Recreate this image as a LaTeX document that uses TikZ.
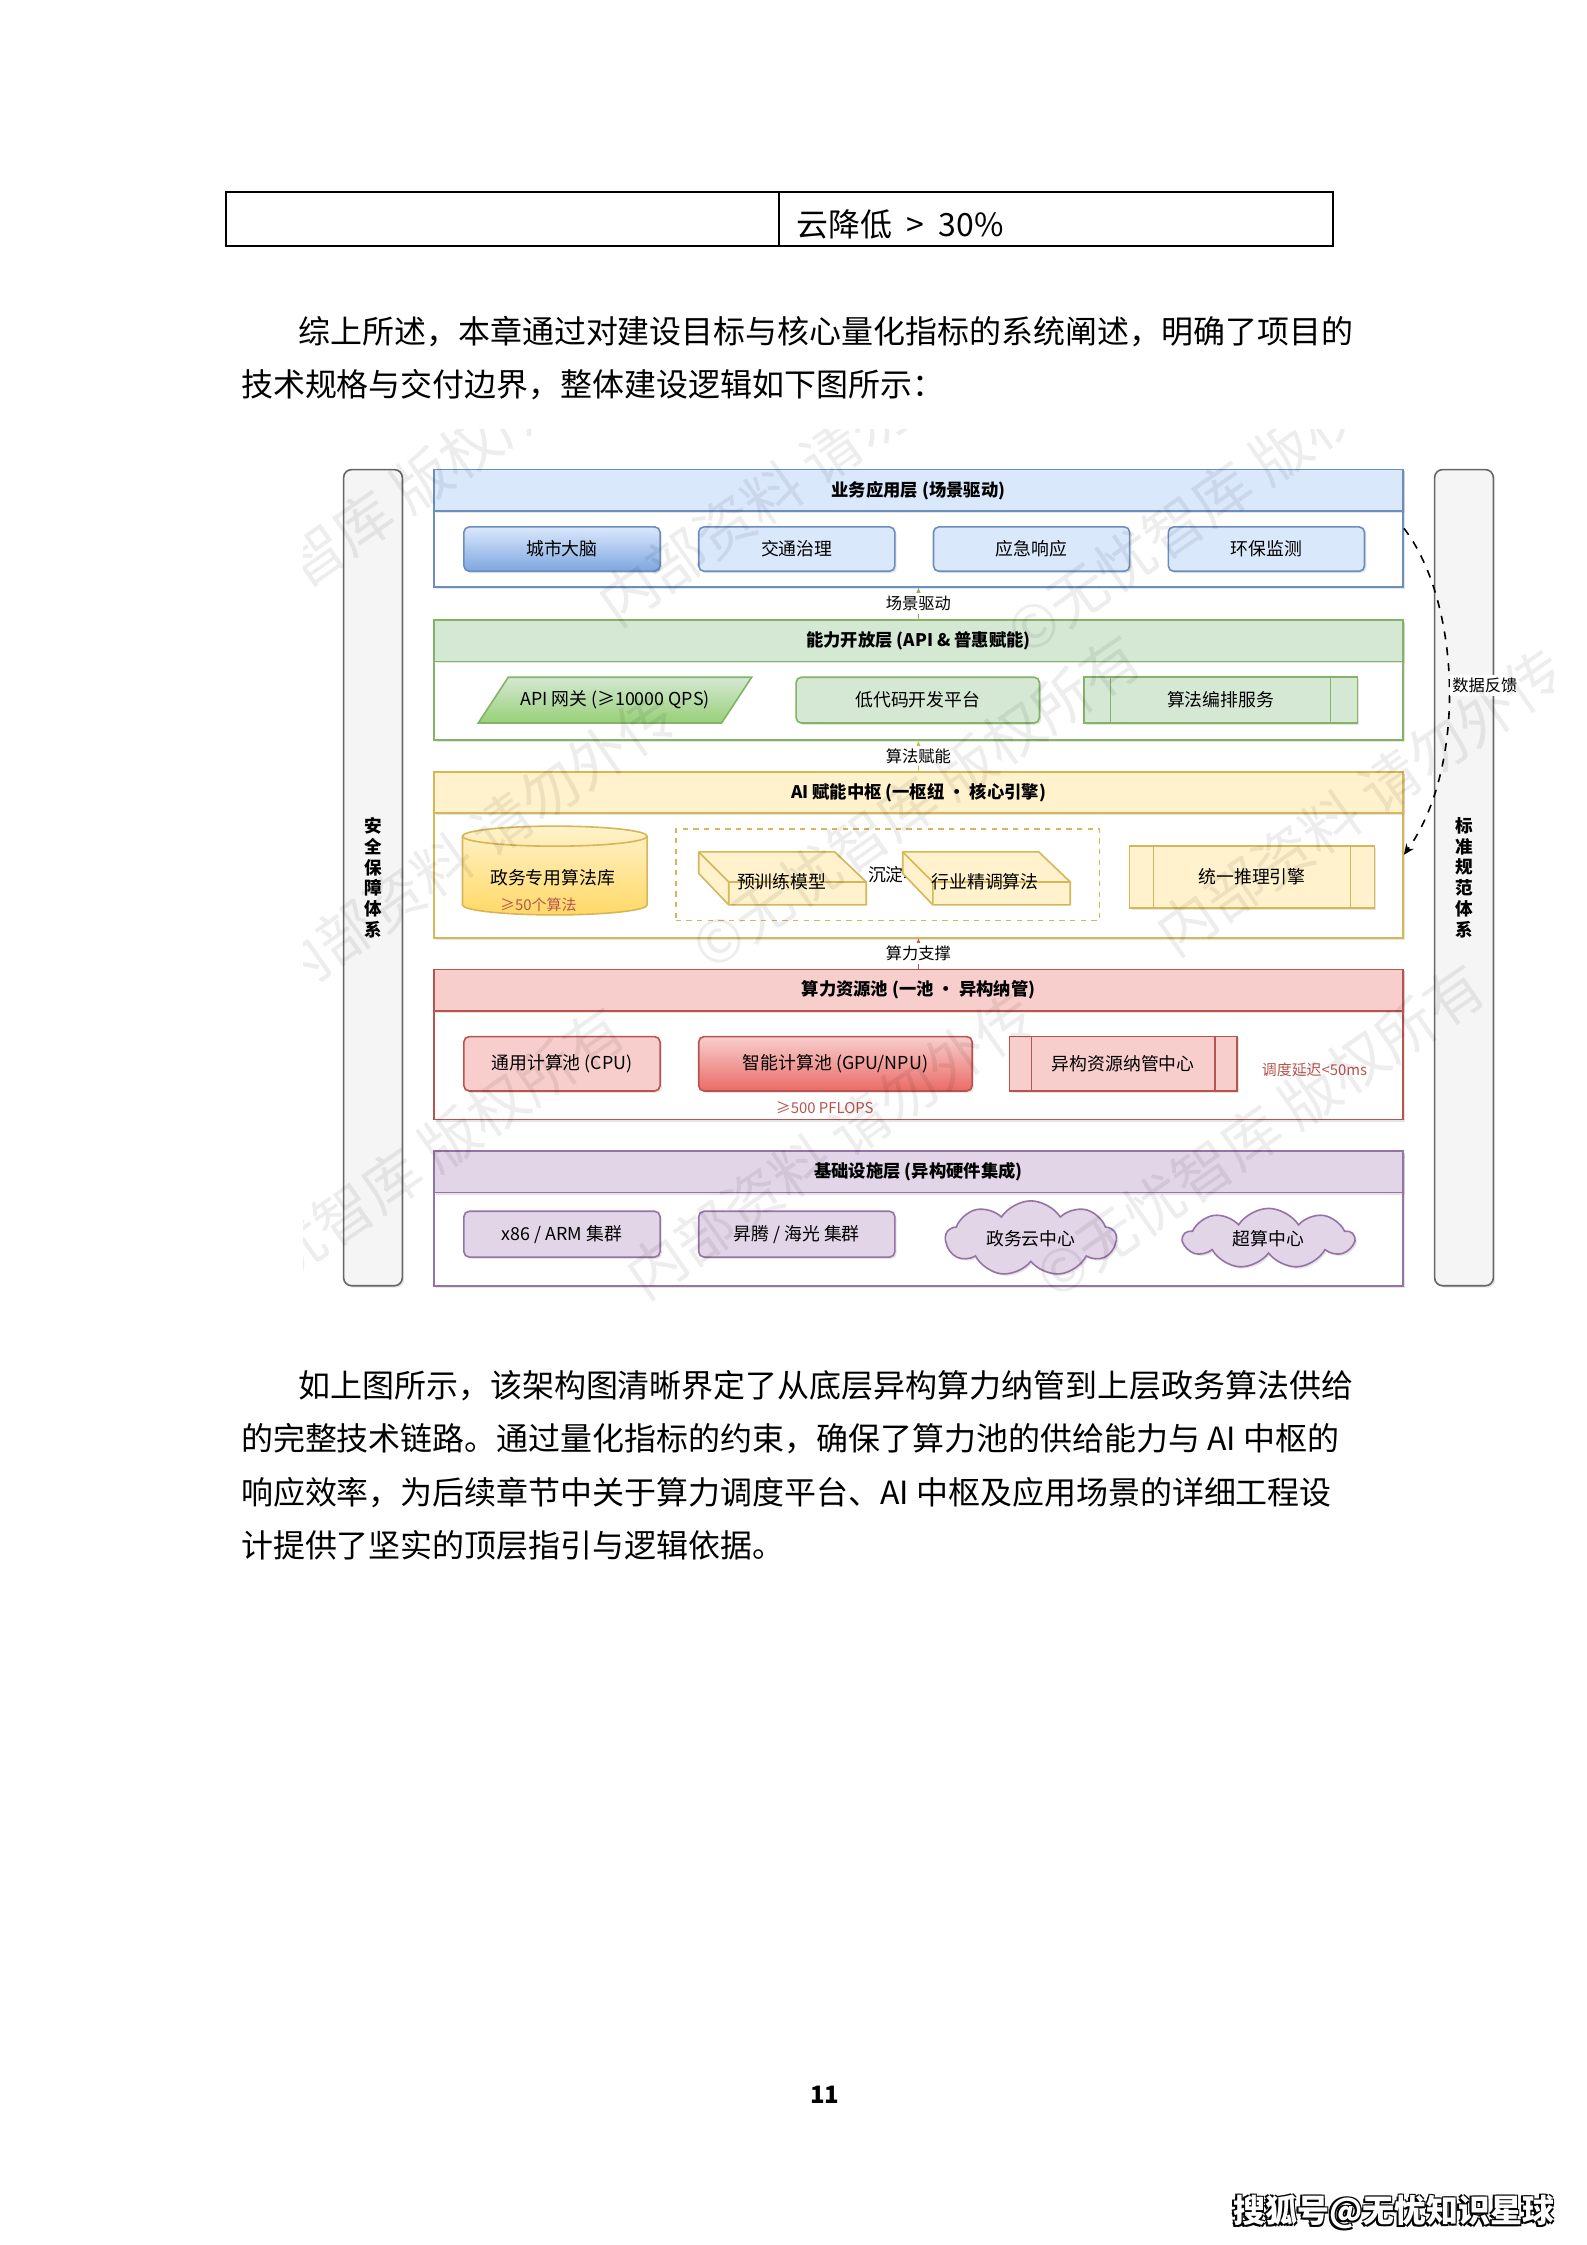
\documentclass[tikz,border=0pt]{standalone}
\usepackage{fontspec}
\setmainfont{Noto Sans CJK SC}
\usetikzlibrary{arrows.meta,calc,shapes.symbols,shadows}

\definecolor{appf}{HTML}{DAE8FC}
\definecolor{appl}{HTML}{6C8EBF}
\definecolor{appg}{HTML}{7EA6E0}
\definecolor{capf}{HTML}{D5E8D4}
\definecolor{capl}{HTML}{82B366}
\definecolor{capg}{HTML}{97D077}
\definecolor{aif}{HTML}{FFF2CC}
\definecolor{ail}{HTML}{D6B656}
\definecolor{aig}{HTML}{FFD966}
\definecolor{powf}{HTML}{F8CECC}
\definecolor{powl}{HTML}{B85450}
\definecolor{powg}{HTML}{EA6B66}
\definecolor{inff}{HTML}{E1D5E7}
\definecolor{infl}{HTML}{9673A6}
\definecolor{sidef}{HTML}{F5F5F5}
\definecolor{sidel}{HTML}{666666}

% cube box, #1 = left x of the back face
\newcommand{\aicube}[1]{%
	\draw[fill=aif, draw=ail, line width=.6pt, line join=round] (#1,595) -- (#1+95,595) -- (#1+117,616) -- (#1+117,632) -- (#1+21,632) -- (#1,610) -- cycle;
	\draw[draw=ail, line width=.6pt] (#1,595) -- (#1+21,616) -- (#1+117,616) (#1+21,616) -- (#1+21,632);
}

\begin{document}
\begin{tikzpicture}[x=0.5375pt,y=-0.5375pt]
	\tikzset{sz/.style 2 args={minimum width=#1*0.5375pt, minimum height=#2*0.5375pt}}
	\tikzset{shdw/.style={drop shadow={opacity=.2, shadow xshift=.7pt, shadow yshift=-.7pt}}}
	\tikzset{hd/.style={draw, line width=.6pt, inner sep=0, shdw, sz={677}{29}, font=\fontsize{6.5}{7}\selectfont\bfseries}}
	\tikzset{lyr/.style={draw, fill=white, line width=.6pt, inner sep=0, shdw}}
	\tikzset{box/.style={draw, line width=.6pt, inner sep=0, rounded corners=2pt, shdw, font=\fontsize{6.7}{7}\selectfont}}
	\tikzset{plainbox/.style={draw, line width=.6pt, inner sep=0, shdw, font=\fontsize{6.7}{7}\selectfont}}
	\tikzset{puff/.style={cloud, cloud puffs=9, cloud puff arc=115, aspect=2.3, draw=infl, fill=inff, line width=.6pt, inner sep=0, minimum width=64pt, shdw, font=\fontsize{6.7}{7}\selectfont}}
	\tikzset{txt/.style={inner sep=0, font=\fontsize{6.7}{7}\selectfont}}
	\tikzset{lbl/.style={fill=white, inner sep=1pt, font=\fontsize{6.1}{7}\selectfont}}
	\tikzset{note/.style={inner sep=0, text=powl, font=\fontsize{5.6}{6}\selectfont}}
	\tikzset{side/.style={draw=sidel, fill=sidef, line width=.6pt, rounded corners=3pt, inner sep=0, shdw, sz={41}{570}, align=center, font=\fontsize{6.6}{7.8}\selectfont\bfseries}}
	\tikzset{para/.style={anchor=base west, inner sep=0, font=\fontsize{12}{14}\selectfont}}
	\tikzset{up/.style={-{Stealth[length=3.2pt,width=2.6pt]}, line width=.6pt}}
	\tikzset{wm/.style={inner sep=0, text=black, opacity=.07, font=\fontsize{22}{24}\selectfont}}

	% page
	\fill[white] (0,0) rectangle (1108,1568);
	\useasboundingbox (0,0) rectangle (1108,1568);

	% table row and text
	\draw[line width=.75pt] (158,134) rectangle (931,172);
	\draw[line width=.75pt] (544,134) -- (544,172);
	\node[para] (tblcell) at (556,165) {云降低\hspace{.45em}>\hspace{.45em}30\%};
	\node[para] (p1a) at (208,240) {综上所述，本章通过对建设目标与核心量化指标的系统阐述，明确了项目的};
	\node[para] (p1b) at (168,277) {技术规格与交付边界，整体建设逻辑如下图所示：};

	% side bars
	\node[side] (secsys) at (260.5,613) {安\\全\\保\\障\\体\\系};
	\node[side] (stdsys) at (1022.5,613) {标\\准\\规\\范\\体\\系};

	% layers
	\node[lyr, draw=appl, sz={677}{82}] (appbody) at (641.5,369) {};
	\node[hd, draw=appl, fill=appf] (apphd) at (641.5,342.5) {业务应用层 (场景驱动)};
	\node[lyr, draw=capl, sz={677}{84}] (capbody) at (641.5,475) {};
	\node[hd, draw=capl, fill=capf] (caphd) at (641.5,447.5) {能力开放层 (API \& 普惠赋能)};
	\node[lyr, draw=ail, sz={677}{116}] (aibody) at (641.5,597) {};
	\node[hd, draw=ail, fill=aif] (aihd) at (641.5,553.5) {AI 赋能中枢 (一枢纽 · 核心引擎)};
	\node[lyr, draw=powl, sz={677}{105}] (powbody) at (641.5,729.5) {};
	\node[hd, draw=powl, fill=powf] (powhd) at (641.5,691.5) {算力资源池 (一池 · 异构纳管)};
	\node[lyr, draw=infl, sz={677}{94}] (infbody) at (641.5,851) {};
	\node[hd, draw=infl, fill=inff] (infhd) at (641.5,818.5) {基础设施层 (异构硬件集成)};

	% application layer
	\node[box, draw=appl, top color=appf, bottom color=appg, sz={137}{31}] (citybrain) at (392.5,383.5) {城市大脑};
	\node[box, draw=appl, fill=appf, sz={137}{31}] (traffic) at (556.5,383.5) {交通治理};
	\node[box, draw=appl, fill=appf, sz={137}{31}] (emerg) at (720.5,383.5) {应急响应};
	\node[box, draw=appl, fill=appf, sz={137}{31}] (envmon) at (884.5,383.5) {环保监测};

	% capability layer
	\shadedraw[draw=capl, top color=capf, bottom color=capg, line width=.6pt] (334,505) -- (355,473) -- (525,473) -- (504,505) -- cycle;
	\node[txt] (apigw) at (429.5,489) {API 网关 (≥10000 QPS)};
	\node[box, draw=capl, fill=capf, sz={170}{32}] (lowcode) at (641,489) {低代码开发平台};
	\node[plainbox, draw=capl, fill=capf, sz={191}{32}] (orch) at (852.5,489) {算法编排服务};

	% AI hub
	\shadedraw[draw=ail, top color=aif, bottom color=aig, line width=.6pt] (323,584) -- (323,632) arc[start angle=180, end angle=0, x radius=64.5, y radius=7] -- (452,584) arc[start angle=0, end angle=-180, x radius=64.5, y radius=7] -- cycle;
	\draw[draw=ail, line width=.6pt] (323,584) arc[start angle=180, end angle=0, x radius=64.5, y radius=7];
	\node[txt] (algolib) at (386,613) {政务专用算法库};
	\node[note] (algonum) at (376,632) {≥50个算法};
	\node[draw=ail, dash pattern=on 2pt off 2pt, line width=.6pt, inner sep=0, sz={296}{64}] (modelgrp) at (620,611) {};
	\node[txt] (sediment) at (625,611) {沉淀与};
	\aicube{488}
	\aicube{630.5}
	\node[txt] (pretrain) at (546,616) {预训练模型};
	\node[txt] (finetune) at (688,616) {行业精调算法};
	\node[plainbox, draw=ail, fill=aif, sz={171}{43}] (infer) at (874.5,612.5) {统一推理引擎};

	% compute pool
	\node[box, draw=powl, fill=powf, sz={137}{38}] (cpupool) at (392.5,743) {通用计算池 (CPU)};
	\node[box, draw=powl, top color=powf, bottom color=powg, sz={191}{38}] (gpupool) at (583.5,743) {智能计算池 (GPU/NPU)};
	\node[plainbox, draw=powl, fill=powf, sz={159}{38}] (hetero) at (784.5,743) {异构资源纳管中心};
	\node[note, anchor=west] (latency) at (881,747) {调度延迟<50ms};
	\node[note] (pflops) at (576,774) {≥500 PFLOPS};

	% infrastructure
	\node[box, draw=infl, fill=inff, sz={137}{32}] (x86arm) at (392.5,862) {x86 / ARM 集群};
	\node[box, draw=infl, fill=inff, sz={137}{32}] (ascend) at (556.5,862) {昇腾 / 海光 集群};
	\node[puff] (govcloud) at (720,865) {政务云中心};
	\node[puff] (hpc) at (886,865) {超算中心};

	% process bars
	\foreach \n/\c in {orch/capl, infer/ail, hetero/powl}
		\draw[draw=\c, line width=.6pt] ($(\n.north west)!.1!(\n.north east)$) -- ($(\n.south west)!.1!(\n.south east)$)
			($(\n.north west)!.9!(\n.north east)$) -- ($(\n.south west)!.9!(\n.south east)$);

	% layer links
	\draw[up, draw=capl] (caphd.north) -- node[lbl] (lbldrive) {场景驱动} (appbody.south);
	\draw[up, draw=ail] (aihd.north) -- node[lbl] (lblenable) {算法赋能} (capbody.south);
	\draw[up, draw=powl] (powhd.north) -- node[lbl] (lblsupport) {算力支撑} (aibody.south);
	\draw[dashed, -{Stealth[length=4pt,width=3.5pt]}, line width=.6pt] (appbody.east) .. controls (1020,420) and (1025,535) .. node[pos=.5, anchor=west, fill=white, inner sep=1pt, font=\fontsize{6.1}{7}\selectfont] (lblfeed) {数据反馈} (aibody.east);

	% watermark
	\begin{scope}
		\clip (212,300) rectangle (1085,930);
		\foreach \wx/\wy/\wt in {260/360/{©无忧智库 版权所有}, 560/330/{内部资料 请勿外传}, 860/340/{©无忧智库 版权所有},
			330/590/{内部资料 请勿外传}, 640/560/{©无忧智库 版权所有}, 950/560/{内部资料 请勿外传},
			280/820/{©无忧智库 版权所有}, 580/800/{内部资料 请勿外传}, 880/790/{©无忧智库 版权所有}}
			\node[wm, rotate=35] (wm-\wx-\wy) at (\wx,\wy) {\wt};
	\end{scope}

	% text after the figure
	\node[para] (p2a) at (208,976) {如上图所示，该架构图清晰界定了从底层异构算力纳管到上层政务算法供给};
	\node[para] (p2b) at (168,1013) {的完整技术链路。通过量化指标的约束，确保了算力池的供给能力与 AI 中枢的};
	\node[para] (p2c) at (168,1051) {响应效率，为后续章节中关于算力调度平台、AI 中枢及应用场景的详细工程设};
	\node[para] (p2d) at (168,1088) {计提供了坚实的顶层指引与逻辑依据。};
	\node[inner sep=0, font=\fontsize{9}{10}\selectfont\bfseries] (pageno) at (576,1463) {11};
	\foreach \dx/\dy [count=\k] in {-1.2/1.2, 1/1, -1/-1, 1/-1}
		\node[inner sep=0, text=black, font=\fontsize{12}{14}\selectfont\bfseries] (footsh\k) at (973.5+\dx,1545+\dy) {搜狐号@无忧知识星球};
	\node[inner sep=0, text=white, font=\fontsize{12}{14}\selectfont\bfseries] (foot) at (973.5,1545) {搜狐号@无忧知识星球};
\end{tikzpicture}
\end{document}
